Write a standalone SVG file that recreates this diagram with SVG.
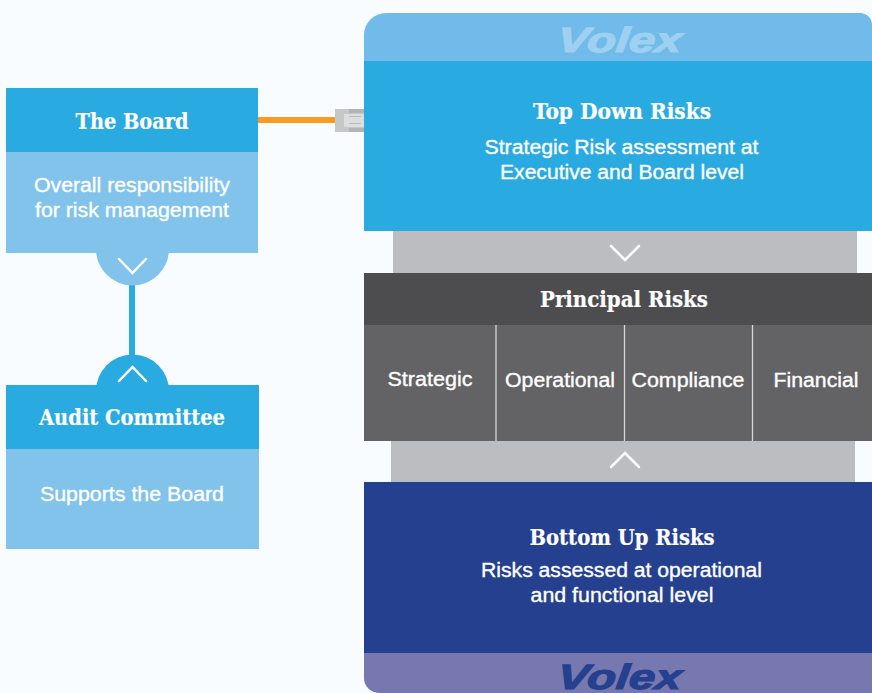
<svg xmlns="http://www.w3.org/2000/svg" width="872" height="693" viewBox="0 0 872 693">
<style>
.h{font-family:"DejaVu Serif Condensed","DejaVu Serif",serif;font-weight:700;font-size:22px;fill:#fff;text-anchor:middle;stroke:#fff;stroke-width:.2}
.b{font-family:"Liberation Sans",Arial,sans-serif;font-size:20px;fill:#fff;text-anchor:middle;stroke:#fff;stroke-width:.35}
.v{font-family:"Liberation Sans",Arial,sans-serif;font-weight:700;font-style:italic;font-size:35px;text-anchor:middle;stroke-width:1.2}
.c{fill:none;stroke:#fff;stroke-width:2.5;stroke-linecap:round;stroke-linejoin:miter}
</style>
<rect width="872" height="693" fill="#f8fcff"/>
<g id="connectors">
<rect x="258" y="117" width="78" height="6" fill="#fa9a1f"/>
<rect x="129" y="285" width="6" height="72" fill="#29abe2"/>
<rect x="335" y="109" width="29" height="23" fill="#c6c7c9"/>
<rect x="344" y="114" width="20" height="13" fill="#dcdddf"/>
<path d="M349 109h15v4h-15zM349 128h15v4h-15z" fill="#b3b4b6"/>
<path d="M349 116h12v1h-12zM349 123h12v1h-12z" fill="#b9babc"/>
<rect x="393" y="231" width="464" height="43" fill="#bcbdc0"/>
<rect x="391" y="441" width="464" height="42" fill="#bcbdc0"/>
<path class="c" d="M611 246l14 14 14-14"/>
<path class="c" d="M611 467l14-14 14 14"/>
</g>
<g id="board">
<circle cx="132.500" cy="249" r="36.500" fill="#82c3ec"/>
<rect x="6" y="88" width="252" height="65" fill="#29abe2"/>
<rect x="6" y="152" width="252" height="101" fill="#82c3ec"/>
<path class="c" d="M119 259l13.500 14 13.500-14"/>
<text class="h" x="132" y="129" textLength="113" lengthAdjust="spacingAndGlyphs">The Board</text>
<text class="b" x="132" y="192" textLength="196" lengthAdjust="spacingAndGlyphs">Overall responsibility</text>
<text class="b" x="132" y="217" textLength="194" lengthAdjust="spacingAndGlyphs">for risk management</text>
</g>
<g id="audit">
<circle cx="132.500" cy="391" r="36.500" fill="#29abe2"/>
<rect x="6" y="385" width="253" height="65" fill="#29abe2"/>
<rect x="6" y="449" width="253" height="100" fill="#82c3ec"/>
<path class="c" d="M119 381l13.500-14 13.500 14"/>
<text class="h" x="132" y="425" textLength="186" lengthAdjust="spacingAndGlyphs">Audit Committee</text>
<text class="b" x="132" y="501" textLength="184" lengthAdjust="spacingAndGlyphs">Supports the Board</text>
</g>
<g id="top-down">
<path d="M364 62V35a22 22 0 0 1 22-22H860a12 12 0 0 1 12 12V62z" fill="#70bbe9"/>
<rect x="364" y="61" width="508" height="170" fill="#29abe2"/>
<text class="v" transform="translate(618.500 51.500) skewX(-6)" fill="#9fd0f1" stroke="#9fd0f1" textLength="124" lengthAdjust="spacingAndGlyphs">Volex</text>
<text class="h" x="622" y="119" textLength="178" lengthAdjust="spacingAndGlyphs">Top Down Risks</text>
<text class="b" x="621.500" y="154" textLength="274" lengthAdjust="spacingAndGlyphs">Strategic Risk assessment at</text>
<text class="b" x="622" y="179" textLength="244" lengthAdjust="spacingAndGlyphs">Executive and Board level</text>
</g>
<g id="principal">
<rect x="364" y="273" width="508" height="52" fill="#4d4d4f"/>
<rect x="364" y="325" width="508" height="116" fill="#636365"/>
<path d="M496 325v116M624.500 325v116M752.500 325v116" stroke="#d4d4d5" stroke-width="1.300" fill="none"/>
<text class="h" x="624" y="307" textLength="168" lengthAdjust="spacingAndGlyphs">Principal Risks</text>
<text class="b" x="430" y="386" textLength="85" lengthAdjust="spacingAndGlyphs">Strategic</text>
<text class="b" x="560" y="387" textLength="110" lengthAdjust="spacingAndGlyphs">Operational</text>
<text class="b" x="688" y="387" textLength="113" lengthAdjust="spacingAndGlyphs">Compliance</text>
<text class="b" x="816" y="387" textLength="85" lengthAdjust="spacingAndGlyphs">Financial</text>
</g>
<g id="bottom-up">
<path d="M364 653V678a15 15 0 0 0 15 15H872V653z" fill="#7878b0"/>
<rect x="364" y="482" width="508" height="171" fill="#25408f"/>
<text class="v" transform="translate(618.500 688.500) skewX(-6)" fill="#25408f" stroke="#25408f" textLength="124" lengthAdjust="spacingAndGlyphs">Volex</text>
<text class="h" x="622" y="545" textLength="185" lengthAdjust="spacingAndGlyphs">Bottom Up Risks</text>
<text class="b" x="621.500" y="577" textLength="281" lengthAdjust="spacingAndGlyphs">Risks assessed at operational</text>
<text class="b" x="622" y="602" textLength="183" lengthAdjust="spacingAndGlyphs">and functional level</text>
</g>
</svg>
